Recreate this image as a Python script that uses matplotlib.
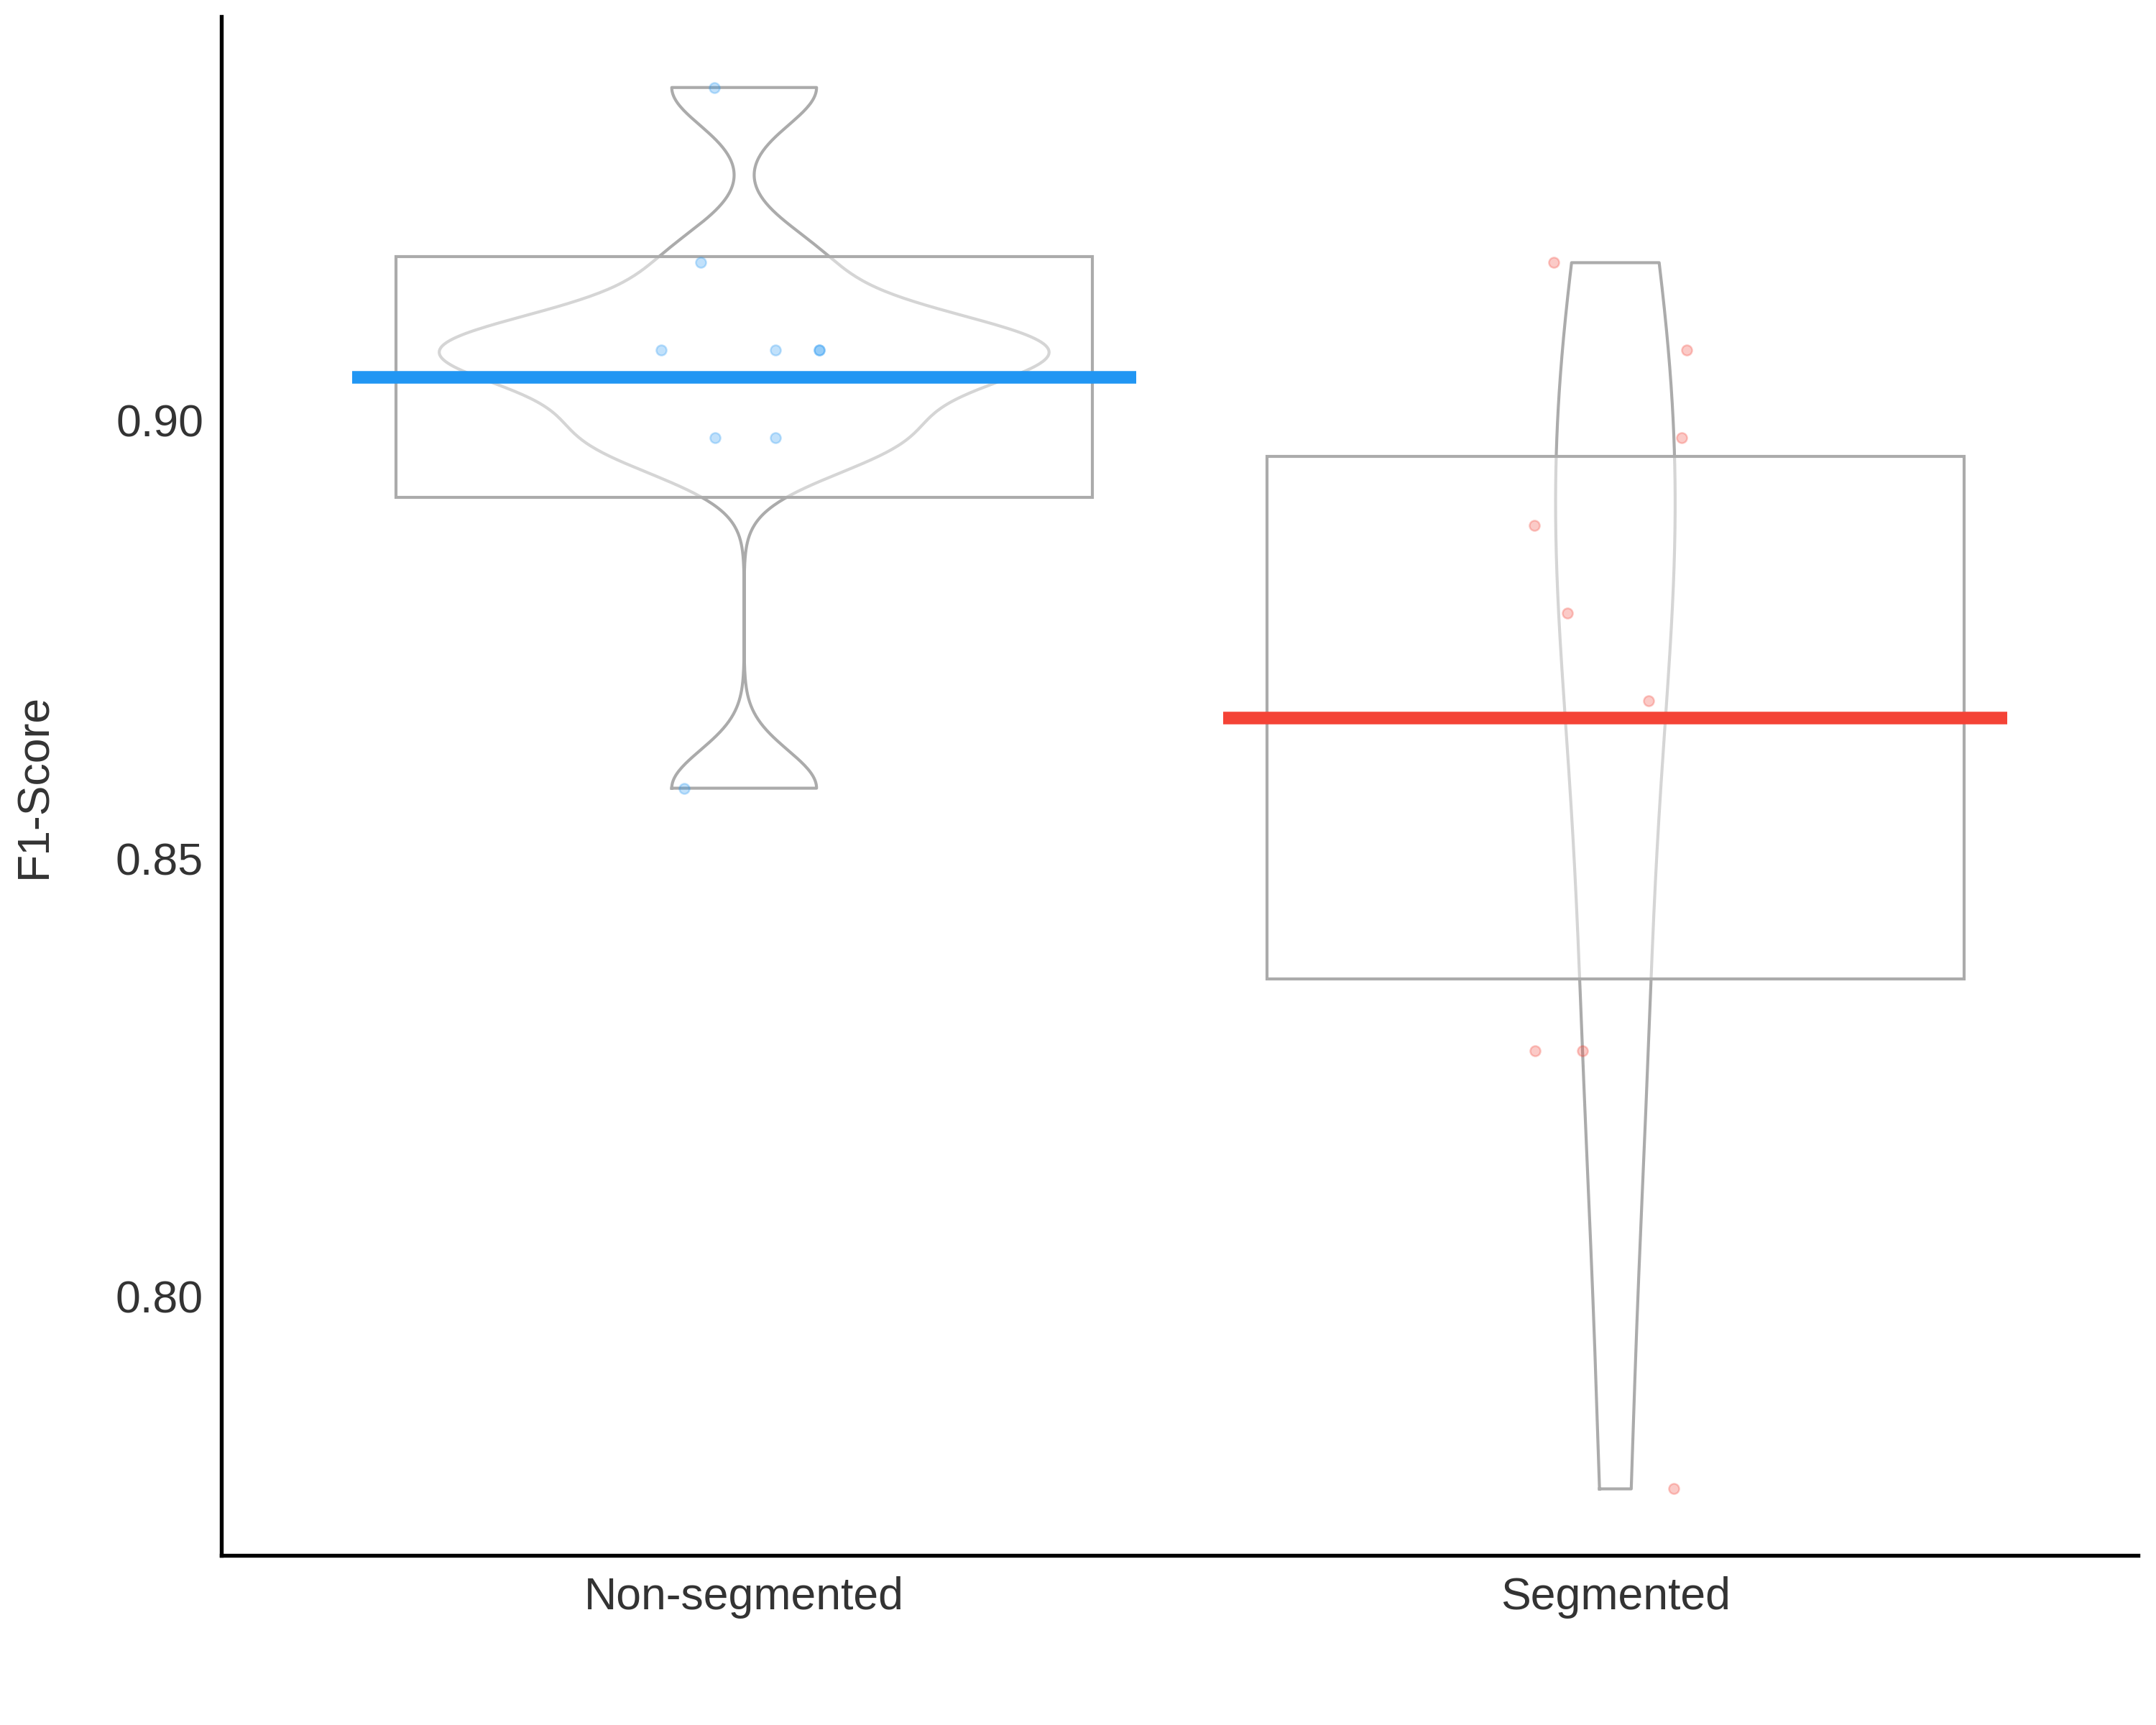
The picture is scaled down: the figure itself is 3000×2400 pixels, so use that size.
import numpy as np
import matplotlib
matplotlib.use("Agg")
import matplotlib.pyplot as plt
from matplotlib.patches import Rectangle

plt.rcParams['font.family'] = ['Liberation Sans', 'DejaVu Sans']

groups = ["Non-segmented", "Segmented"]
nonseg = [0.938, 0.918, 0.908, 0.908, 0.908, 0.908, 0.898, 0.898, 0.858]
seg = [0.918, 0.908, 0.898, 0.888, 0.878, 0.868, 0.828, 0.828, 0.778]
# horizontal jitter of each point
nonseg_jit = [-0.034, -0.050, -0.095, 0.036, 0.086, 0.086, -0.033, 0.036, -0.069]
seg_jit = [-0.071, 0.082, 0.076, -0.093, -0.055, 0.038, -0.092, -0.038, 0.067]
means = [0.9049, 0.8660]
band_lo = [0.8912, 0.8362]
band_hi = [0.9187, 0.8959]
colors = ["#2196F3", "#F44336"]

data = [nonseg, seg]
jits = [nonseg_jit, seg_jit]

gray = "#ABABAB"


def bw_nrd0(x):
    x = np.asarray(x)
    q75, q25 = np.percentile(x, [75, 25])
    lo = min(np.std(x, ddof=1), (q75 - q25) / 1.34)
    return 0.9 * lo * len(x) ** -0.2


def kde(x, grid):
    x = np.asarray(x)
    h = bw_nrd0(x)
    z = (grid[:, None] - x[None, :]) / h
    return np.exp(-0.5 * z ** 2).sum(axis=1) / (len(x) * h * np.sqrt(2 * np.pi))


fig = plt.figure(figsize=(10, 8), dpi=300)
ax = fig.add_axes([0.1027, 0.0983, 0.8890, 0.8921])

grids = [np.linspace(min(d), max(d), 400) for d in data]
dens = [kde(d, g) for d, g in zip(data, grids)]
top = max(dd.max() for dd in dens)

for i, (d, g, dd) in enumerate(zip(data, grids, dens)):
    pos = i + 1
    w = dd / top * 0.35
    xs = np.concatenate([pos - w, (pos + w)[::-1], [pos - w[0]]])
    ys = np.concatenate([g, g[::-1], [g[0]]])
    ax.plot(xs, ys, color=gray, lw=1.0, zorder=2)
    ax.add_patch(Rectangle((pos - 0.4, band_lo[i]), 0.8, band_hi[i] - band_lo[i],
                           facecolor="white", alpha=0.5, edgecolor="none", zorder=3))
    ax.add_patch(Rectangle((pos - 0.4, band_lo[i]), 0.8, band_hi[i] - band_lo[i],
                           facecolor="none", edgecolor=gray, lw=1.0, zorder=4))
    ax.plot(pos + np.array(jits[i]), d, 'o', ms=3.4, mfc=colors[i], mec=colors[i],
            mew=0.6, alpha=0.28, ls="none", zorder=5)
    ax.plot([pos - 0.45, pos + 0.45], [means[i], means[i]], color=colors[i],
            lw=4.2, solid_capstyle="butt", zorder=6)

ax.set_xlim(0.4, 2.6)
ax.set_ylim(0.7704, 0.9461)
ax.set_xticks([1, 2])
ax.set_xticklabels(groups)
ax.set_yticks([0.80, 0.85, 0.90])
ax.set_yticklabels(["0.80", "0.85", "0.90"])
ax.tick_params(length=0, labelsize=15, labelcolor="#333333")
ax.tick_params(axis="y", pad=6)
ax.tick_params(axis="x", pad=7)
ax.set_ylabel("F1-Score", fontsize=15, color="#333333", labelpad=20)

for s in ["top", "right"]:
    ax.spines[s].set_visible(False)
for s in ["left", "bottom"]:
    ax.spines[s].set_linewidth(1.3)
    ax.spines[s].set_color("black")

fig.savefig("out.png", dpi=300)
